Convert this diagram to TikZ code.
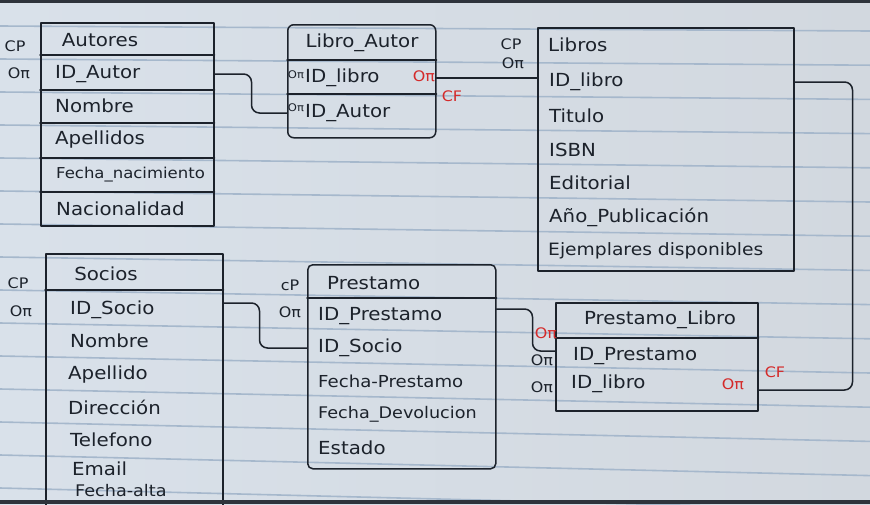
\documentclass[tikz,border=0pt]{standalone}
\usepackage{fontspec}
\setmainfont{DejaVu Sans}[FakeStretch=1.1]
\usetikzlibrary{calc}
\definecolor{inkc}{HTML}{1C222B}
\definecolor{redc}{HTML}{D42A2A}
\definecolor{rulec}{HTML}{A6B8CC}
\definecolor{boardl}{HTML}{D9E1EA}
\definecolor{boardm}{HTML}{E6EAEF}
\definecolor{boardr}{HTML}{D2D8DF}
\definecolor{framec}{HTML}{2E333B}
\begin{document}
\begin{tikzpicture}[x=1pt,y=-1pt,
  ink/.style={draw=inkc, line width=1.5pt, line cap=round, line join=round},
  tbl/.style={ink, rectangle, anchor=north west, inner sep=0pt},
  txt/.style={anchor=west, inner sep=0pt, text=inkc, font=\fontsize{18}{20}\selectfont},
  ttl/.style={txt, anchor=center},
  keylbl/.style={inner sep=0pt, text=inkc, font=\fontsize{14.5}{16}\selectfont},
  smallkey/.style={keylbl, font=\fontsize{10.5}{12}\selectfont},
  redkey/.style={keylbl, text=redc},
  conn/.style={ink, rounded corners=8pt}]
\useasboundingbox (0,0) rectangle (870,504);
\begin{scope}
\clip (0,0) rectangle (870,504);
% board and ruled lines
\shade[left color=boardl, middle color=boardm, right color=boardr] (0,0) rectangle (870,504);
\foreach \i in {0,...,14}{
  \draw[rulec, line width=1.6pt] (0,{26+33*\i}) -- (870,{31+34.2*\i});
}

% ---------- Autores ----------
\node[tbl, minimum width=173pt, minimum height=203pt] (autores) at (40,22) {};
\foreach \yy in {55,90,123,158,192}{
  \draw[ink] (autores.west |- 0,\yy) -- (autores.east |- 0,\yy);
}
\node[ttl] (a-title) at (100,40) {Autores};
\node[txt] (a-id) at (55,74) {ID\_Autor};
\node[txt] (a-nom) at (55,106) {Nombre};
\node[txt] (a-ape) at (55,140) {Apellidos};
\node[txt, font=\fontsize{15}{17}\selectfont] (a-fec) at (56,175) {Fecha\_nacimiento};
\node[txt] (a-nac) at (56,209) {Nacionalidad};
\node[keylbl] (a-cp) at (15,46) {CP};
\node[keylbl] (a-pk) at (19,73) {Oπ};

% ---------- Libro_Autor ----------
\node[tbl, rounded corners=6pt, minimum width=148pt, minimum height=113pt] (libroautor) at (287,24) {};
\draw[ink] (libroautor.west |- 0,60) -- (libroautor.east |- 0,60);
\draw[ink] (libroautor.west |- 0,94) -- (libroautor.east |- 0,94);
\node[ttl] (la-title) at (362,43) {Libro\_Autor};
\node[smallkey] (la-k1) at (296,75) {Oπ};
\node[txt] (la-libro) at (305,78) {ID\_libro};
\node[redkey] (la-fk1) at (424,76) {Oπ};
\node[smallkey] (la-k2) at (296,108) {Oπ};
\node[txt] (la-autor) at (305,113) {ID\_Autor};
\node[redkey] (la-cf) at (452,96) {CF};

% ---------- Libros ----------
\node[tbl, minimum width=256pt, minimum height=243pt] (libros) at (537,27) {};
\node[txt] (l-title) at (548,45) {Libros};
\node[txt] (l-id) at (549,82) {ID\_libro};
\node[txt] (l-tit) at (549,116) {Titulo};
\node[txt] (l-isbn) at (549,150) {ISBN};
\node[txt] (l-edi) at (549,183) {Editorial};
\node[txt] (l-anio) at (549,217) {Año\_Publicación};
\node[txt, font=\fontsize{17}{19}\selectfont] (l-eje) at (548,251) {Ejemplares disponibles};
\node[keylbl] (l-cp) at (511,44) {CP};
\node[keylbl] (l-pk) at (513,63) {Oπ};

% ---------- Socios ----------
\node[tbl, minimum width=177pt, minimum height=270pt] (socios) at (45,253) {};
\draw[ink] (socios.west |- 0,290) -- (socios.east |- 0,290);
\node[ttl] (s-title) at (106,274) {Socios};
\node[txt] (s-id) at (70,310) {ID\_Socio};
\node[txt] (s-nom) at (70,341) {Nombre};
\node[txt] (s-ape) at (68,375) {Apellido};
\node[txt] (s-dir) at (68,407) {Dirección};
\node[txt] (s-tel) at (70,440) {Telefono};
\node[txt] (s-ema) at (72,469) {Email};
\node[txt, font=\fontsize{16}{18}\selectfont] (s-alt) at (75,491) {Fecha-alta};
\node[keylbl] (s-cp) at (18,283) {CP};
\node[keylbl] (s-pk) at (21,311) {Oπ};

% ---------- Prestamo ----------
\node[tbl, rounded corners=5pt, minimum width=188pt, minimum height=204pt] (prestamo) at (307,264) {};
\draw[ink] (prestamo.west |- 0,298) -- (prestamo.east |- 0,298);
\node[txt] (p-title) at (327,283) {Prestamo};
\node[txt] (p-id) at (318,316) {ID\_Prestamo};
\node[txt] (p-socio) at (318,348) {ID\_Socio};
\node[txt, font=\fontsize{16.5}{18}\selectfont] (p-fpr) at (318,381) {Fecha-Prestamo};
\node[txt, font=\fontsize{16}{18}\selectfont] (p-fde) at (318,414) {Fecha\_Devolucion};
\node[txt] (p-est) at (318,448) {Estado};
\node[keylbl] (p-cp) at (290,285) {cP};
\node[keylbl] (p-pk) at (290,312) {Oπ};

% ---------- Prestamo_Libro ----------
\node[tbl, minimum width=202pt, minimum height=108pt] (prestamolibro) at (555,302) {};
\draw[ink] (prestamolibro.west |- 0,338) -- (prestamolibro.east |- 0,338);
\node[ttl] (pl-title) at (660,320) {Prestamo\_Libro};
\node[txt] (pl-prestamo) at (573,356) {ID\_Prestamo};
\node[txt] (pl-libro) at (571,384) {ID\_libro};
\node[redkey] (pl-fk) at (733,384) {Oπ};
\node[redkey] (pl-cf) at (775,372) {CF};
\node[redkey] (pl-k0) at (546,333) {Oπ};
\node[keylbl] (pl-k1) at (542,360) {Oπ};
\node[keylbl] (pl-k2) at (542,387) {Oπ};

% ---------- relationships ----------
\draw[conn] (autores.east |- a-id) -- ++(37,0) |- (libroautor.west |- la-autor);
\draw[conn] (libroautor.east |- la-libro) -- (libros.west |- la-libro);
\draw[conn] (libros.east |- l-id) -- ++(58,0) |- ($(prestamolibro.east |- pl-libro)+(0,6)$);
\draw[conn] ($(socios.east |- s-id)+(0,-7)$) -- ++(36,0) |- (prestamo.west |- p-socio);
\draw[conn] ($(prestamo.east |- p-id)+(0,-7)$) -- ++(36,0) |- ($(prestamolibro.west |- pl-prestamo)+(0,-5)$);

% photo frame edges
\fill[framec] (0,0) rectangle (870,3);
\fill[framec] (0,500) rectangle (870,504);
\end{scope}
\end{tikzpicture}
\end{document}
